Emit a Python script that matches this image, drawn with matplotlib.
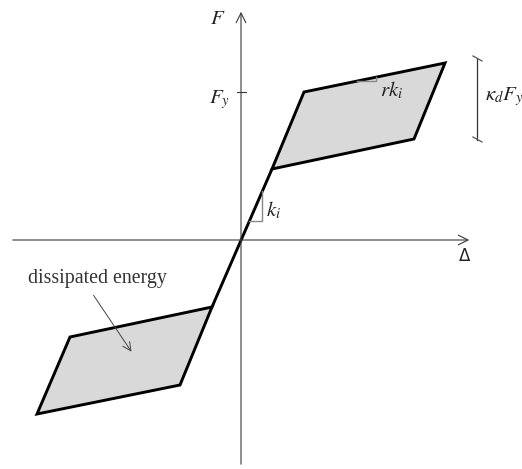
import matplotlib
matplotlib.use("Agg")
import matplotlib.pyplot as plt
from matplotlib.patches import Polygon

plt.rcParams['mathtext.fontset'] = 'stix'

# Bilinear hysteresis model (displacement, force in drawing units)
upper_loop_disp = [63, 204, 173, 31]
upper_loop_force = [148, 177, 101, 71]
lower_loop_disp = [-61, -204, -171, -29]
lower_loop_force = [-145, -174, -97, -67]
elastic_disp = [-29, 31]
elastic_force = [-67, 71]
yield_force = 148

fig = plt.figure(figsize=(5.22, 4.69), dpi=100)
ax = fig.add_axes([0, 0, 1, 1])
ax.set_xlim(-241, 281)
ax.set_ylim(-229, 240)
ax.axis('off')

axis_col = '#3a3a3a'
text_col = '#222222'
# Coordinate axes with open arrowheads
ax.annotate('', xy=(231, 0), xytext=(-231, 0),
            arrowprops=dict(arrowstyle='->,head_length=0.7,head_width=0.35',
                            color=axis_col, lw=0.8))
ax.annotate('', xy=(0, 231), xytext=(0, -227),
            arrowprops=dict(arrowstyle='->,head_length=0.7,head_width=0.35',
                            color=axis_col, lw=0.8))
ax.text(-31, 222, r'$F$', fontsize=15, ha='left', va='center', color=text_col)
ax.text(224, -16, 'Δ', fontsize=12, family='DejaVu Sans', ha='center', va='center',
        color=text_col)

# Yield force tick
ax.plot([-4, 5], [yield_force, yield_force], color=axis_col, lw=0.8)
ax.text(-11, yield_force - 8, r'$F_y$', fontsize=15, ha='right', va='center', color=text_col)

# Hysteresis loops
for xs, ys in ((upper_loop_disp, upper_loop_force), (lower_loop_disp, lower_loop_force)):
    ax.add_patch(Polygon(list(zip(xs, ys)), closed=True, facecolor='#d9d9d9',
                         edgecolor='black', lw=2.1, joinstyle='miter'))
ax.plot(elastic_disp, elastic_force, color='black', lw=2.1, solid_capstyle='butt')

# Slope markers
gray = '#888888'
ki_x0, ki_x1 = 8, 21
ki_slope = upper_loop_force[0] / upper_loop_disp[0]
ax.plot([ki_x0, ki_x1, ki_x1], [ki_x0 * ki_slope, ki_x0 * ki_slope, ki_x1 * ki_slope],
        color=gray, lw=1.0)
ax.text(25, 30, r'$k_i$', fontsize=15, ha='left', va='center', color=text_col)

r_slope = (upper_loop_force[1] - upper_loop_force[0]) / (upper_loop_disp[1] - upper_loop_disp[0])
rx0, rx1 = 116, 135
ry0 = upper_loop_force[0] + (rx0 - upper_loop_disp[0]) * r_slope
ry1 = upper_loop_force[0] + (rx1 - upper_loop_disp[0]) * r_slope
ax.plot([rx0, rx1, rx1], [ry0, ry0, ry1], color=gray, lw=1.0)
ax.text(139, 150, r'$rk_i$', fontsize=15, ha='left', va='center', color=text_col)

# Characteristic strength bracket
bx = 236
b_top, b_bot = 181, 100
ax.plot([bx, bx], [b_bot, b_top], color='#333333', lw=0.9)
for yb in (b_top, b_bot):
    ax.plot([bx - 4, bx + 5], [yb + 3, yb - 2], color='#555555', lw=0.9)
ax.text(244, 143, r'$\kappa_d F_y$', fontsize=15, ha='left', va='center', color=text_col)

# Dissipated energy callout
ax.text(-213, -38, 'dissipated energy', fontsize=14.3, family='Liberation Serif',
        ha='left', va='center', color='#333333')
ax.annotate('', xy=(-108, -114), xytext=(-149, -53),
            arrowprops=dict(arrowstyle='->,head_length=0.6,head_width=0.3',
                            color='#444444', lw=0.7))

fig.savefig('out.png', dpi=100)
